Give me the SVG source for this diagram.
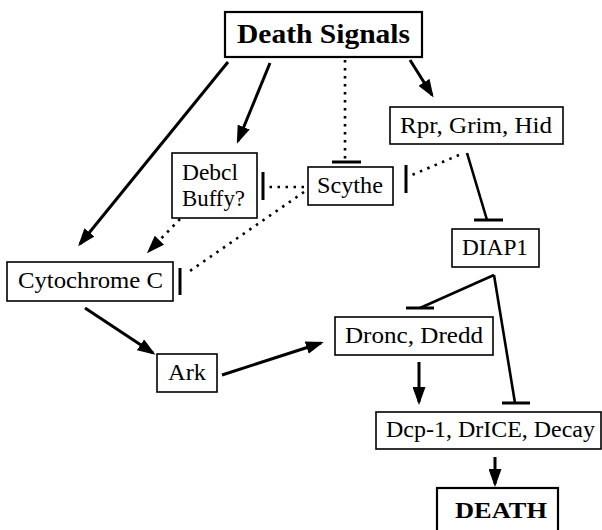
<svg xmlns="http://www.w3.org/2000/svg" width="602" height="530" viewBox="0 0 602 530">
<defs>
<style>
.box{fill:#fff;stroke:#000;stroke-width:1.6}
.bold{fill:none;stroke:#000;stroke-width:2.2}
.t{font-family:'Liberation Serif','DejaVu Serif',serif;fill:#000;font-size:23px}
.tb{font-family:'Liberation Serif','DejaVu Serif',serif;fill:#000;font-weight:bold}
.a{stroke:#000;stroke-width:3;fill:none;marker-end:url(#ah)}
.i{stroke:#000;stroke-width:2.6;fill:none}
.d{stroke:#000;stroke-width:2.6;fill:none;stroke-dasharray:2.5 5.5}
.da{stroke:#000;stroke-width:2.6;fill:none;stroke-dasharray:2.5 5.5;marker-end:url(#ah)}
.bar{stroke:#000;stroke-width:3;fill:none}
</style>
<marker id="ah" markerUnits="userSpaceOnUse" viewBox="0 0 18 13" markerWidth="18" markerHeight="13" refX="15" refY="6.5" orient="auto">
<path d="M0,0 L18,6.5 L0,13 z" fill="#000"/>
</marker>
</defs>
<rect width="602" height="530" fill="#fff"/>
<g id="connectors">
<line class="a" x1="228" y1="62" x2="80" y2="244"/>
<line class="a" x1="270" y1="63" x2="238" y2="141"/>
<line class="d" x1="345" y1="60" x2="345" y2="160"/>
<line class="bar" x1="332" y1="162" x2="361" y2="162"/>
<line class="a" x1="410" y1="60" x2="432" y2="95"/>
<line class="i" x1="467" y1="153" x2="487" y2="220"/>
<line class="bar" x1="474" y1="220" x2="503" y2="220"/>
<line class="d" x1="459" y1="155" x2="412" y2="175"/>
<line class="bar" x1="406" y1="165" x2="406" y2="193"/>
<line class="d" x1="304" y1="187" x2="268" y2="187"/>
<line class="bar" x1="263" y1="172" x2="263" y2="200"/>
<line class="d" x1="304" y1="192" x2="187" y2="273"/>
<line class="bar" x1="180" y1="268" x2="180" y2="295"/>
<line class="da" x1="180" y1="219" x2="149" y2="251"/>
<line class="a" x1="85" y1="308" x2="153" y2="353"/>
<line class="a" x1="222" y1="375" x2="321" y2="343"/>
<line class="i" x1="494" y1="275" x2="420" y2="308"/>
<line class="bar" x1="406" y1="308" x2="434" y2="308"/>
<line class="i" x1="494" y1="275" x2="515" y2="403"/>
<line class="bar" x1="502" y1="403" x2="530" y2="403"/>
<line class="a" x1="419" y1="362" x2="419" y2="402"/>
<line class="a" x1="495" y1="457" x2="495" y2="484"/>
</g>
<g id="death-signals">
<rect class="bold" x="225" y="12" width="197" height="45"/>
<text class="tb" x="237" y="43" font-size="27" textLength="173" lengthAdjust="spacingAndGlyphs">Death Signals</text>
</g>
<g id="rpr">
<rect class="box" x="390" y="107" width="173" height="37"/>
<text class="t" x="400" y="133" textLength="152" lengthAdjust="spacingAndGlyphs">Rpr, Grim, Hid</text>
</g>
<g id="scythe">
<rect class="box" x="308" y="167" width="85" height="38"/>
<text class="t" x="317" y="193" textLength="66" lengthAdjust="spacingAndGlyphs">Scythe</text>
</g>
<g id="debcl">
<rect class="box" x="172" y="153" width="85" height="65"/>
<text class="t" x="182" y="180" textLength="56" lengthAdjust="spacingAndGlyphs">Debcl</text>
<text class="t" x="182" y="206" textLength="63" lengthAdjust="spacingAndGlyphs">Buffy?</text>
</g>
<g id="cytochrome">
<rect class="box" x="7" y="262" width="166" height="39"/>
<text class="t" x="18" y="288" textLength="145" lengthAdjust="spacingAndGlyphs">Cytochrome C</text>
</g>
<g id="ark">
<rect class="box" x="157" y="354" width="60" height="38"/>
<text class="t" x="168" y="380" textLength="38" lengthAdjust="spacingAndGlyphs">Ark</text>
</g>
<g id="diap1">
<rect class="box" x="452" y="229" width="87" height="38"/>
<text class="t" x="462" y="255" textLength="66" lengthAdjust="spacingAndGlyphs">DIAP1</text>
</g>
<g id="dronc">
<rect class="box" x="335" y="317" width="158" height="38"/>
<text class="t" x="345" y="343" textLength="138" lengthAdjust="spacingAndGlyphs">Dronc, Dredd</text>
</g>
<g id="dcp">
<rect class="box" x="376" y="412" width="225" height="37"/>
<text class="t" x="386" y="437" textLength="209" lengthAdjust="spacingAndGlyphs">Dcp-1, DrICE, Decay</text>
</g>
<g id="death">
<rect class="bold" x="437" y="488" width="121" height="50"/>
<text class="tb" x="455" y="518" font-size="24" textLength="92" lengthAdjust="spacingAndGlyphs">DEATH</text>
</g>
</svg>
